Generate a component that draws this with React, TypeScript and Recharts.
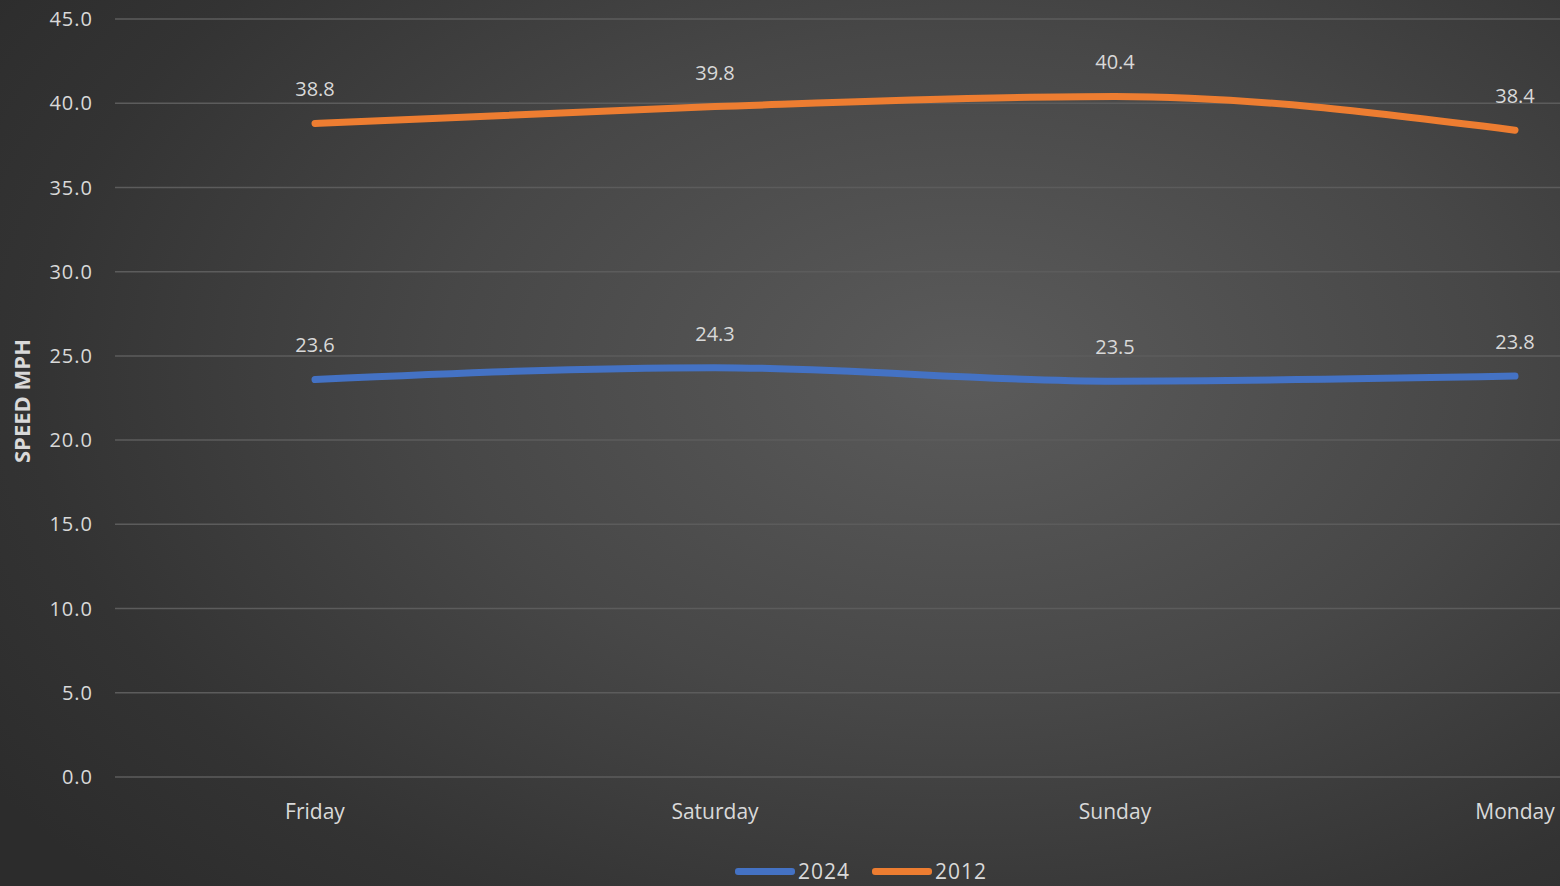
import { LineChart, Line, XAxis, YAxis, CartesianGrid, Legend, LabelList } from 'recharts';

const days = ['Friday', 'Saturday', 'Sunday', 'Monday'];
const speed2024 = [23.6, 24.3, 23.5, 23.8];
const speed2012 = [38.8, 39.8, 40.4, 38.4];
const yTicks = [0, 5, 10, 15, 20, 25, 30, 35, 40, 45];

const series = [
  { id: 'y2024', label: '2024', color: '#4472C4' },
  { id: 'y2012', label: '2012', color: '#ED7D31' },
];

const FONT = '"Open Sans", "DejaVu Sans", sans-serif';
const TEXT = '#d9d9d9';

const chartData = days.map((day, i) => ({
  day,
  y2024: speed2024[i],
  y2012: speed2012[i],
}));

function LegendContent() {
  return (
    <div
      style={{
        height: 49,
        display: 'flex',
        justifyContent: 'center',
        alignItems: 'flex-end',
        paddingBottom: 1,
        boxSizing: 'border-box',
        transform: 'translateX(92px)',
        fontFamily: FONT,
        fontSize: 21,
        color: TEXT,
      }}
    >
      {series.map((s) => (
        <div key={s.id} style={{ display: 'flex', alignItems: 'center', marginRight: 22 }}>
          <span style={{ display: 'inline-block', width: 60, height: 7, borderRadius: 3, background: s.color, marginRight: 3 }} />
          <span style={{ letterSpacing: 1 }}>{s.label}</span>
        </div>
      ))}
    </div>
  );
}

export default function App() {
  return (
    <div
      style={{
        position: 'absolute',
        left: 0,
        top: 0,
        width: 1560,
        height: 886,
        overflow: 'hidden',
        background: 'radial-gradient(ellipse 75% 85% at 62% 42%, #5b5b5b 0%, #474747 45%, #333333 80%, #2c2c2c 100%)',
      }}
    >
      <LineChart width={1560} height={886} data={chartData} margin={{ top: 19, right: 0, bottom: 0, left: 0 }}>
        <CartesianGrid vertical={false} stroke="#5c5c5c" strokeWidth={1.5} />
        <XAxis
          dataKey="day"
          scale="point"
          padding={{ left: 200, right: 45 }}
          axisLine={false}
          tickLine={false}
          tickSize={0}
          tickMargin={27}
          height={60}
          tick={{ fill: TEXT, fontSize: 21, fontFamily: FONT }}
        />
        <YAxis
          domain={[0, 45]}
          ticks={yTicks}
          width={115}
          axisLine={false}
          tickLine={false}
          tickSize={0}
          tickMargin={22}
          tickFormatter={(v: number) => v.toFixed(1)}
          tick={{ fill: TEXT, fontSize: 20, fontFamily: FONT, letterSpacing: 1 }}
          label={{
            value: 'SPEED MPH',
            angle: -90,
            position: 'insideLeft',
            offset: 22,
            fill: TEXT,
            fontSize: 22,
            fontWeight: 700,
            fontFamily: FONT,
            dy: 65,
          }}
        />
        <Legend verticalAlign="bottom" content={<LegendContent />} />
        {series.map((s) => (
          <Line
            key={s.id}
            type="monotone"
            dataKey={s.id}
            name={s.label}
            stroke={s.color}
            strokeWidth={7}
            strokeLinecap="round"
            dot={false}
            activeDot={false}
            isAnimationActive={false}
          >
            <LabelList
              dataKey={s.id}
              position="top"
              offset={27}
              fill={TEXT}
              fontSize={20}
              fontFamily={FONT}
              formatter={(v: number) => v.toFixed(1)}
            />
          </Line>
        ))}
      </LineChart>
    </div>
  );
}
